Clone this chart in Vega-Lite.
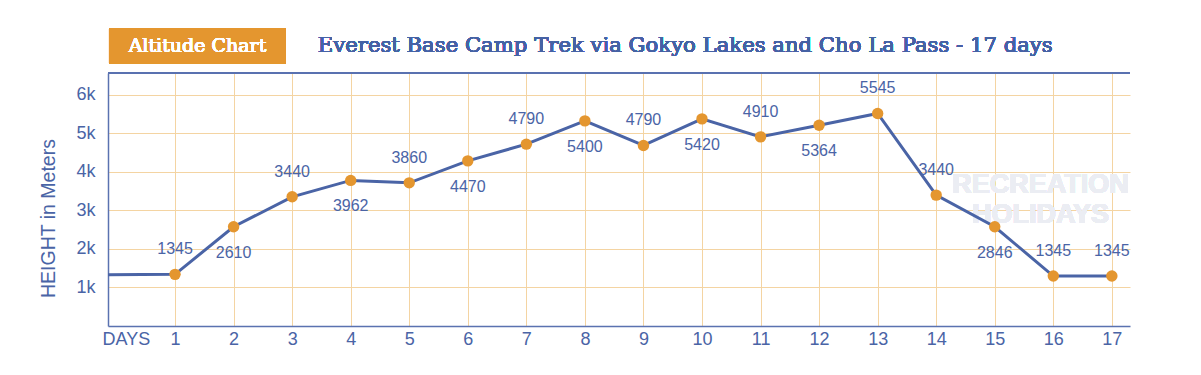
{
  "$schema": "https://vega.github.io/schema/vega-lite/v6.json",
  "width": 1022,
  "height": 253,
  "autosize": {"type": "none"},
  "padding": {"left": 108, "top": 73, "right": 71, "bottom": 49},
  "background": "#FFFFFF",
  "config": {
    "view": {"stroke": null},
    "font": "Liberation Sans",
    "axisX": {
      "grid": true,
      "title": null,
      "ticks": false,
      "labelPadding": 4,
      "labelFontSize": 18,
      "labelColor": "#4A64A6",
      "labelFlush": false,
      "labelOverlap": false,
      "domainColor": "#5A72B0",
      "domainWidth": 1.5,
      "gridColor": {"condition": {"test": "datum.value < 0.5", "value": "transparent"}, "value": "#F4D4A2"},
      "gridWidth": 1
    },
    "axisY": {
      "grid": true,
      "titleFontSize": 19.5,
      "titleFontWeight": "normal",
      "titleColor": "#4A64A6",
      "titleX": -60,
      "titleY": 145,
      "titleAlign": "center",
      "titleBaseline": "middle",
      "titleAngle": -90,
      "ticks": false,
      "labelPadding": 13,
      "labelFontSize": 18,
      "labelColor": "#4A64A6",
      "domainColor": "#5A72B0",
      "domainWidth": 1.5,
      "gridColor": "#F4D4A2",
      "gridWidth": 1
    }
  },
  "data": {
    "values": [
      {"day": -0.3, "alt": 1329},
      {"day": 1, "alt": 1339, "label": "1345", "side": "above"},
      {"day": 2, "alt": 2573, "label": "2610", "side": "below"},
      {"day": 3, "alt": 3350, "label": "3440", "side": "above"},
      {"day": 4, "alt": 3775, "label": "3962", "side": "below"},
      {"day": 5, "alt": 3712, "label": "3860", "side": "above"},
      {"day": 6, "alt": 4282, "label": "4470", "side": "below"},
      {"day": 7, "alt": 4715, "label": "4790", "side": "above"},
      {"day": 8, "alt": 5319, "label": "5400", "side": "below"},
      {"day": 9, "alt": 4681, "label": "4790", "side": "above"},
      {"day": 10, "alt": 5370, "label": "5420", "side": "below"},
      {"day": 11, "alt": 4904, "label": "4910", "side": "above"},
      {"day": 12, "alt": 5207, "label": "5364", "side": "below"},
      {"day": 13, "alt": 5510, "label": "5545", "side": "above"},
      {"day": 14, "alt": 3394, "label": "3440", "side": "above"},
      {"day": 15, "alt": 2573, "label": "2846", "side": "below"},
      {"day": 16, "alt": 1295, "label": "1345", "side": "above"},
      {"day": 17, "alt": 1295, "label": "1345", "side": "above"}
    ]
  },
  "layer": [
    {
      "mark": {"type": "text", "font": "Liberation Sans", "fontWeight": "bold", "fontSize": 27, "color": "#EBEDF3", "align": "center", "baseline": "middle"},
      "encoding": {
        "x": {"datum": 15.78, "type": "quantitative", "scale": {"domain": [-0.145, 17.31], "nice": false, "zero": false},
          "axis": {"title": null, "values": [0.16, 1, 2, 3, 4, 5, 6, 7, 8, 9, 10, 11, 12, 13, 14, 15, 16, 17], "labelExpr": "datum.value < 0.5 ? 'DAYS' : datum.label"}},
        "y": {"datum": 3656, "type": "quantitative", "scale": {"domain": [0, 6560], "nice": false},
          "axis": {"title": "HEIGHT in Meters", "values": [1000, 2000, 3000, 4000, 5000, 6000], "labelExpr": "format(datum.value / 1000, 'd') + 'k'"}},
        "text": {"value": "RECREATION"}
      }
    },
    {
      "mark": {"type": "text", "font": "Liberation Sans", "fontWeight": "bold", "fontSize": 27, "color": "#EBEDF3", "align": "center", "baseline": "middle"},
      "encoding": {
        "x": {"datum": 15.78, "type": "quantitative",
          "axis": {"title": null, "values": [0.16, 1, 2, 3, 4, 5, 6, 7, 8, 9, 10, 11, 12, 13, 14, 15, 16, 17], "labelExpr": "datum.value < 0.5 ? 'DAYS' : datum.label"}},
        "y": {"datum": 2878, "type": "quantitative",
          "axis": {"title": "HEIGHT in Meters", "values": [1000, 2000, 3000, 4000, 5000, 6000], "labelExpr": "format(datum.value / 1000, 'd') + 'k'"}},
        "text": {"value": "HOLIDAYS"}
      }
    },
    {
      "mark": {"type": "line", "color": "#4A64A6", "strokeWidth": 3, "clip": true},
      "encoding": {
        "x": {"field": "day", "type": "quantitative",
          "axis": {"title": null, "values": [0.16, 1, 2, 3, 4, 5, 6, 7, 8, 9, 10, 11, 12, 13, 14, 15, 16, 17], "labelExpr": "datum.value < 0.5 ? 'DAYS' : datum.label"}},
        "y": {"field": "alt", "type": "quantitative",
          "axis": {"title": "HEIGHT in Meters", "values": [1000, 2000, 3000, 4000, 5000, 6000], "labelExpr": "format(datum.value / 1000, 'd') + 'k'"}}
      }
    },
    {
      "mark": {"type": "circle", "color": "#E4962F", "opacity": 1, "size": 130},
      "transform": [{"filter": "isValid(datum.label)"}],
      "encoding": {
        "x": {"field": "day", "type": "quantitative",
          "axis": {"title": null, "values": [0.16, 1, 2, 3, 4, 5, 6, 7, 8, 9, 10, 11, 12, 13, 14, 15, 16, 17], "labelExpr": "datum.value < 0.5 ? 'DAYS' : datum.label"}},
        "y": {"field": "alt", "type": "quantitative",
          "axis": {"title": "HEIGHT in Meters", "values": [1000, 2000, 3000, 4000, 5000, 6000], "labelExpr": "format(datum.value / 1000, 'd') + 'k'"}}
      }
    },
    {
      "transform": [{"filter": "datum.side == 'above'"}],
      "mark": {"type": "text", "fontSize": 16, "color": "#4A64A6", "dy": -25, "baseline": "middle"},
      "encoding": {
        "x": {"field": "day", "type": "quantitative",
          "axis": {"title": null, "values": [0.16, 1, 2, 3, 4, 5, 6, 7, 8, 9, 10, 11, 12, 13, 14, 15, 16, 17], "labelExpr": "datum.value < 0.5 ? 'DAYS' : datum.label"}},
        "y": {"field": "alt", "type": "quantitative",
          "axis": {"title": "HEIGHT in Meters", "values": [1000, 2000, 3000, 4000, 5000, 6000], "labelExpr": "format(datum.value / 1000, 'd') + 'k'"}},
        "text": {"field": "label"}
      }
    },
    {
      "transform": [{"filter": "datum.side == 'below'"}],
      "mark": {"type": "text", "fontSize": 16, "color": "#4A64A6", "dy": 26, "baseline": "middle"},
      "encoding": {
        "x": {"field": "day", "type": "quantitative",
          "axis": {"title": null, "values": [0.16, 1, 2, 3, 4, 5, 6, 7, 8, 9, 10, 11, 12, 13, 14, 15, 16, 17], "labelExpr": "datum.value < 0.5 ? 'DAYS' : datum.label"}},
        "y": {"field": "alt", "type": "quantitative",
          "axis": {"title": "HEIGHT in Meters", "values": [1000, 2000, 3000, 4000, 5000, 6000], "labelExpr": "format(datum.value / 1000, 'd') + 'k'"}},
        "text": {"field": "label"}
      }
    },
    {
      "mark": {"type": "rule", "color": "#5A72B0", "strokeWidth": 1.5},
      "encoding": {
        "y": {"datum": 6560, "type": "quantitative",
          "axis": {"title": "HEIGHT in Meters", "values": [1000, 2000, 3000, 4000, 5000, 6000], "labelExpr": "format(datum.value / 1000, 'd') + 'k'"}}
      }
    },
    {
      "mark": {"type": "rect", "color": "#E4962F", "clip": false},
      "encoding": {
        "x": {"datum": -0.128, "type": "quantitative",
          "axis": {"title": null, "values": [0.16, 1, 2, 3, 4, 5, 6, 7, 8, 9, 10, 11, 12, 13, 14, 15, 16, 17], "labelExpr": "datum.value < 0.5 ? 'DAYS' : datum.label"}},
        "x2": {"datum": 2.89},
        "y": {"datum": 7718, "type": "quantitative",
          "axis": {"title": "HEIGHT in Meters", "values": [1000, 2000, 3000, 4000, 5000, 6000], "labelExpr": "format(datum.value / 1000, 'd') + 'k'"}},
        "y2": {"datum": 6811}
      }
    },
    {
      "mark": {"type": "text", "font": "DejaVu Serif", "fontSize": 19, "color": "#FFFFFF", "align": "center", "baseline": "middle", "clip": false},
      "encoding": {
        "x": {"datum": 1.383, "type": "quantitative",
          "axis": {"title": null, "values": [0.16, 1, 2, 3, 4, 5, 6, 7, 8, 9, 10, 11, 12, 13, 14, 15, 16, 17], "labelExpr": "datum.value < 0.5 ? 'DAYS' : datum.label"}},
        "y": {"datum": 7260, "type": "quantitative",
          "axis": {"title": "HEIGHT in Meters", "values": [1000, 2000, 3000, 4000, 5000, 6000], "labelExpr": "format(datum.value / 1000, 'd') + 'k'"}},
        "text": {"value": "Altitude Chart"}
      }
    },
    {
      "mark": {"type": "text", "font": "DejaVu Serif", "fontSize": 21.2, "color": "#4562A5", "align": "left", "baseline": "middle", "clip": false},
      "encoding": {
        "x": {"datum": 3.438, "type": "quantitative",
          "axis": {"title": null, "values": [0.16, 1, 2, 3, 4, 5, 6, 7, 8, 9, 10, 11, 12, 13, 14, 15, 16, 17], "labelExpr": "datum.value < 0.5 ? 'DAYS' : datum.label"}},
        "y": {"datum": 7260, "type": "quantitative",
          "axis": {"title": "HEIGHT in Meters", "values": [1000, 2000, 3000, 4000, 5000, 6000], "labelExpr": "format(datum.value / 1000, 'd') + 'k'"}},
        "text": {"value": "Everest Base Camp Trek via Gokyo Lakes and Cho La Pass - 17 days"}
      }
    }
  ]
}
